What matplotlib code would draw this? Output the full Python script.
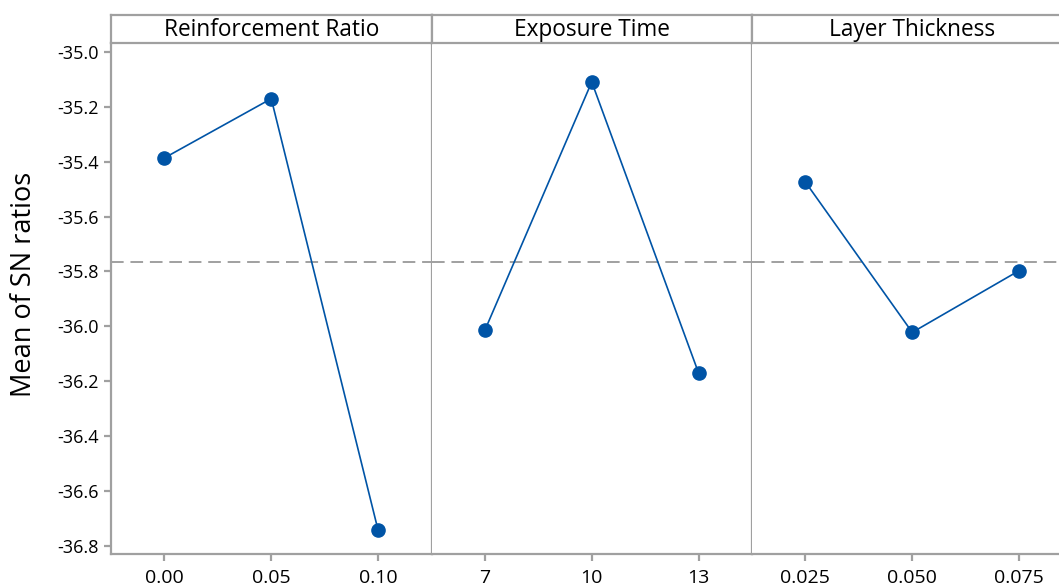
import numpy as np
import matplotlib
matplotlib.use("Agg")
import matplotlib.pyplot as plt

plt.rcParams['font.family'] = ['Open Sans', 'DejaVu Sans']

# main effects of SN ratios per factor level
factors = ["Reinforcement Ratio", "Exposure Time", "Layer Thickness"]
level_labels = [
    ["0.00", "0.05", "0.10"],
    ["7", "10", "13"],
    ["0.025", "0.050", "0.075"],
]
sn_means = [
    [-35.386, -35.170, -36.743],
    [-36.014, -35.109, -36.170],
    [-35.474, -36.022, -35.797],
]
grand_mean = np.mean(sn_means)

yticks = [-35.0, -35.2, -35.4, -35.6, -35.8, -36.0, -36.2, -36.4, -36.6, -36.8]
ylim = (-36.83, -34.967)

W, H = 1059, 586
fig = plt.figure(figsize=(W / 100, H / 100), dpi=100)

frame_col = "#a0a0a0"
line_col = "#0054a6"

# panel geometry in pixels
x0 = 111
pw = 320.5
plot_top, plot_bot = 43, 554
strip_top = 15

for i, name in enumerate(factors):
    left = x0 + i * pw
    ax = fig.add_axes([left / W, (H - plot_bot) / H, pw / W, (plot_bot - plot_top) / H])
    xs = np.arange(len(level_labels[i]))
    ax.axhline(grand_mean, color=frame_col, lw=1.4, dashes=(6.5, 3.5), zorder=1)
    ax.plot(xs, sn_means[i], color=line_col, lw=1.2, marker="o", ms=9.5,
            mfc=line_col, mec=line_col, zorder=3)
    ax.set_xlim(-0.5, 2.5)
    ax.set_ylim(*ylim)
    ax.set_xticks(xs)
    ax.set_xticklabels(level_labels[i])
    ax.set_yticks(yticks)
    ax.set_yticklabels([f"{v:.1f}" for v in yticks])
    for s in ax.spines.values():
        s.set_color(frame_col)
        s.set_linewidth(1.6)
    ax.spines["top"].set_visible(False)
    ax.tick_params(axis="both", colors=frame_col, labelcolor="black",
                   length=5, width=1.6)
    ax.tick_params(axis="x", labelsize=14, pad=6)
    ax.tick_params(axis="y", labelsize=13, pad=4)
    if i > 0:
        ax.spines["left"].set_visible(False)
        ax.tick_params(axis="y", left=False, labelleft=False)
    else:
        ax.set_ylabel("Mean of SN ratios", fontsize=19.5)
        ax.yaxis.set_label_coords(-0.228, 0.528)

    # factor name strip above each panel
    st = fig.add_axes([left / W, (H - plot_top) / H, pw / W, (plot_top - strip_top) / H])
    st.set_xticks([])
    st.set_yticks([])
    for s in st.spines.values():
        s.set_color(frame_col)
        s.set_linewidth(1.6)
    st.text(0.5, 0.45, name, ha="center", va="center", fontsize=16.3,
            transform=st.transAxes)

fig.savefig("out.png", dpi=100)
